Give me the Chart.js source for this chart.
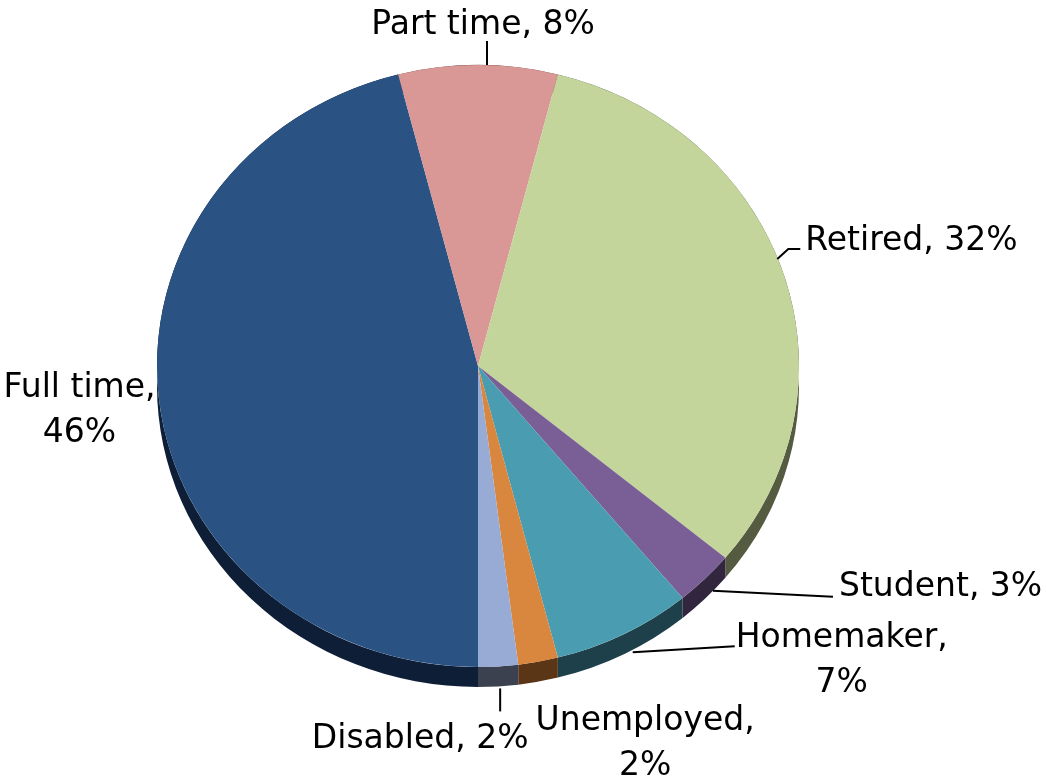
<!DOCTYPE html>
<html>
<head>
<meta charset="utf-8">
<script src="https://cdn.jsdelivr.net/npm/chart.js@4.4.1/dist/chart.umd.min.js"></script>
<style>
  html, body { margin: 0; padding: 0; background: #fff; }
  canvas { display: block; }
</style>
</head>
<body>
<canvas id="pieChart" width="1046" height="778"></canvas>
<script>
// Employment status shares (percent)
const categories = ['Full time', 'Part time', 'Retired', 'Student', 'Homemaker', 'Unemployed', 'Disabled'];
const shares = [46, 8, 32, 3, 7, 2, 2];

// top face and rim colours, same order as categories
const topColors = ['#2a5283', '#d99795', '#c3d59b', '#7a5f96', '#4a9db0', '#d9863f', '#97abd4'];
const sideColors = ['#0f1e37', '#6e4a49', '#555b40', '#32263f', '#1e404a', '#5a3617', '#3c4150'];

// label placement relative to the rim point at each slice's middle angle
const labelLayout = {
    'Full time':  { dx: -80, dy: -7, align: 'center', wrap: true },
    'Part time':  { dx: 5, dy: -31, align: 'center', leader: [[9, 0], [9, -24]] },
    'Retired':    { dx: 22, dy: -23, align: 'left', leader: [[-6, -14], [5, -24], [17, -24]] },
    'Student':    { dx: 134, dy: 17, align: 'left', leader: [[8, 12], [128, 18]] },
    'Homemaker':  { dx: 218, dy: 13, align: 'center', wrap: true, leader: [[9, 18], [111, 12]] },
    'Unemployed': { dx: 107, dy: 68, align: 'center', wrap: true },
    'Disabled':   { dx: -78, dy: 82, align: 'center', leader: [[2, 22], [2, 45]] },
};

const RADIUS = 321;
const TILT = 301 / 321;   // vertical squash of the pie
const DEPTH = 20;         // rim thickness in px
const LINE_H = 45;

// squash the pie into an ellipse and paint the rim underneath it
const tiltPlugin = {
    id: 'tilt',
    beforeDatasetsDraw(chart) {
        const ctx = chart.ctx;
        const arcs = chart.getDatasetMeta(0).data;
        const { x, y } = arcs[0];
        ctx.save();
        ctx.translate(x, y);
        ctx.scale(1, TILT);
        ctx.translate(-x, -y);
        const off = DEPTH / TILT;
        arcs.forEach((arc, i) => {
            const r = arc.outerRadius;
            ctx.beginPath();
            ctx.arc(x, y + off, r, arc.startAngle, arc.endAngle);
            ctx.arc(x, y, r, arc.endAngle, arc.startAngle, true);
            ctx.closePath();
            ctx.fillStyle = sideColors[i];
            ctx.fill();
        });
    },
    afterDatasetsDraw(chart) {
        chart.ctx.restore();
    }
};

const labelPlugin = {
    id: 'sliceLabels',
    afterDraw(chart) {
        const ctx = chart.ctx;
        const arcs = chart.getDatasetMeta(0).data;
        ctx.save();
        ctx.font = '33px "DejaVu Sans"';
        ctx.fillStyle = '#000';
        ctx.strokeStyle = '#000';
        ctx.lineWidth = 2;
        ctx.textBaseline = 'alphabetic';
        arcs.forEach((arc, i) => {
            const mid = (arc.startAngle + arc.endAngle) / 2;
            const px = arc.x + arc.outerRadius * Math.cos(mid);
            const py = arc.y + arc.outerRadius * TILT * Math.sin(mid);
            const lay = labelLayout[categories[i]];
            if (lay.leader) {
                ctx.beginPath();
                lay.leader.forEach(([lx, ly], j) => {
                    if (j === 0) ctx.moveTo(px + lx, py + ly);
                    else ctx.lineTo(px + lx, py + ly);
                });
                ctx.stroke();
            }
            const lines = lay.wrap
                ? [categories[i] + ',', shares[i] + '%']
                : [categories[i] + ', ' + shares[i] + '%'];
            ctx.textAlign = lay.align;
            lines.forEach((t, j) => ctx.fillText(t, px + lay.dx, py + lay.dy + j * LINE_H));
        });
        ctx.restore();
    }
};

const ctx = document.getElementById('pieChart').getContext('2d');
new Chart(ctx, {
    type: 'pie',
    data: {
        labels: categories,
        datasets: [{
            data: shares,
            backgroundColor: topColors,
            borderWidth: 0,
            hoverOffset: 0,
            clip: false,
        }],
    },
    options: {
        responsive: false,
        animation: false,
        rotation: 180,
        radius: RADIUS,
        layout: { padding: { left: 157, right: 247, top: 45, bottom: 91 } },
        plugins: {
            legend: { display: false },
            tooltip: { enabled: false },
        },
    },
    plugins: [tiltPlugin, labelPlugin],
});
</script>
</body>
</html>
